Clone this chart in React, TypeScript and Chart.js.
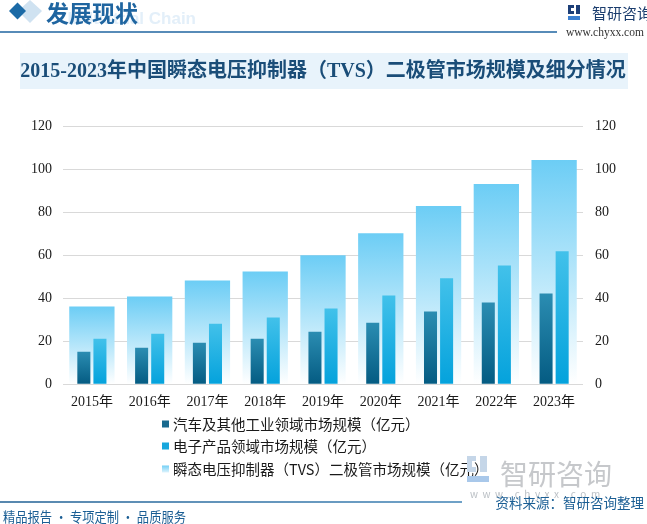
import React, { useEffect, useRef } from "react";
import { Chart, registerables } from "chart.js";

Chart.register(...registerables);

const categories = ["2015年", "2016年", "2017年", "2018年", "2019年", "2020年", "2021年", "2022年", "2023年"];
const autoIndustry = [15.1, 16.9, 19.3, 21.1, 24.4, 28.6, 33.8, 38.0, 42.2];
const electronics = [21.1, 23.5, 28.1, 31.0, 35.2, 41.2, 49.2, 55.2, 61.8];
const totalMarket = [36.1, 40.8, 48.2, 52.4, 59.9, 70.2, 82.8, 93.0, 104.2];
const seriesNames = [
  "汽车及其他工业领域市场规模（亿元）",
  "电子产品领域市场规模（亿元）",
  "瞬态电压抑制器（TVS）二极管市场规模（亿元）",
];
const titleText = "2015-2023年中国瞬态电压抑制器（TVS）二极管市场规模及细分情况";
const yMax = 120;
const yStep = 20;

const SERIF = '"Liberation Serif", "Noto Sans CJK SC", serif';
const SANS = '"Noto Sans CJK SC", "Noto Sans", sans-serif';

function gradientFill(c1: string, c2: string, fallback: string) {
  return (ctx: any) => {
    const chart = ctx.chart;
    const area = chart.chartArea;
    if (!area || ctx.type !== "data") return fallback;
    const v = ctx.parsed ? ctx.parsed.y : ctx.raw;
    const y = chart.scales.y;
    const top = y.getPixelForValue(v);
    const bottom = y.getPixelForValue(0);
    if (!isFinite(top) || !isFinite(bottom) || top === bottom) return fallback;
    const g = chart.ctx.createLinearGradient(0, top, 0, bottom);
    g.addColorStop(0, c1);
    g.addColorStop(1, c2);
    return g;
  };
}

const decorPlugin = {
  id: "decor",
  beforeDraw(chart: any) {
    const c = chart.ctx as CanvasRenderingContext2D;
    c.save();
    c.fillStyle = "#ffffff";
    c.fillRect(0, 0, chart.width, chart.height);

    // header diamonds
    c.fillStyle = "#cfe2f1";
    c.beginPath();
    c.moveTo(30, 0);
    c.lineTo(42, 11);
    c.lineTo(30, 23);
    c.lineTo(18, 11);
    c.closePath();
    c.fill();
    c.fillStyle = "#1b6aa6";
    c.beginPath();
    c.moveTo(17.5, 2.5);
    c.lineTo(26, 11);
    c.lineTo(17.5, 19.5);
    c.lineTo(9, 11);
    c.closePath();
    c.fill();

    // faded english
    c.fillStyle = "#e3eff9";
    c.font = 'bold 17px "Liberation Sans", Arial, sans-serif';
    c.textAlign = "right";
    c.textBaseline = "middle";
    c.fillText("Industrial Chain", 196, 19);

    // heading
    c.fillStyle = "#1f65a0";
    c.font = "bold 23px " + SANS;
    c.textAlign = "left";
    c.fillText("发展现状", 46, 13);

    // header line
    c.strokeStyle = "#1f64a0";
    c.lineWidth = 1.5;
    c.beginPath();
    c.moveTo(0, 32);
    c.lineTo(557, 32);
    c.stroke();

    // logo icon
    c.fillStyle = "#1d3f78";
    c.fillRect(568, 5, 6, 3);
    c.fillRect(568, 5, 3, 9);
    c.fillRect(568, 11, 6, 3);
    c.fillRect(576, 5, 4, 9);
    c.fillStyle = "#3b7fd0";
    c.fillRect(568, 16, 12, 4);
    c.fillStyle = "#1b3d6e";
    c.font = "15px " + SANS;
    c.textAlign = "left";
    c.fillText("智研咨询", 592, 13);
    c.fillStyle = "#333333";
    c.font = "11.5px " + SERIF;
    c.fillText("www.chyxx.com", 566, 33);

    // title box
    c.fillStyle = "#e8f3fb";
    c.fillRect(20, 53, 608, 36);
    c.fillStyle = "#1a4d78";
    c.font = "bold 20px " + SERIF;
    c.textAlign = "center";
    c.fillText(titleText, 323, 72);
    c.restore();
  },
  afterDraw(chart: any) {
    const c = chart.ctx as CanvasRenderingContext2D;
    c.save();
    // legend
    const rows = [424, 446, 469];
    const marks: any[] = ["#186a8f", "#17a7dd", null];
    rows.forEach((ry, i) => {
      if (marks[i]) {
        c.fillStyle = marks[i];
      } else {
        const g = c.createLinearGradient(0, ry - 4, 0, ry + 4);
        g.addColorStop(0, "#6ccdf5");
        g.addColorStop(1, "#e6f6fd");
        c.fillStyle = g;
      }
      c.fillRect(162, ry - 3.5, 7, 7);
      c.fillStyle = "#1a1a1a";
      c.font = "14.5px " + SANS;
      c.textAlign = "left";
      c.textBaseline = "middle";
      c.fillText(seriesNames[i], 173, ry);
    });

    // watermark bottom right
    c.fillStyle = "#c5d6e8";
    c.fillRect(467, 456, 9, 5);
    c.fillRect(467, 456, 5, 16);
    c.fillRect(467, 467, 9, 5);
    c.fillRect(480, 456, 7, 16);
    c.fillStyle = "#a9c8ea";
    c.fillRect(467, 476, 22, 6);
    c.fillStyle = "#c6c8cb";
    c.font = "28px " + SANS;
    c.textAlign = "left";
    c.textBaseline = "middle";
    c.fillText("智研咨询", 500, 474);
    c.fillStyle = "#bcc1c6";
    c.font = "10px " + SANS;
    c.fillText("w  w  w  .  c  h  y  x  x  .  c  o  m", 470, 494);

    // footer line
    const lg = c.createLinearGradient(0, 0, 462, 0);
    lg.addColorStop(0, "#1f5f93");
    lg.addColorStop(1, "#3f82b5");
    c.strokeStyle = lg;
    c.lineWidth = 1.5;
    c.beginPath();
    c.moveTo(0, 502);
    c.lineTo(462, 502);
    c.stroke();

    c.fillStyle = "#1a5e94";
    c.font = "13.5px " + SANS;
    c.textAlign = "right";
    c.fillText("资料来源：智研咨询整理", 644, 503);
    c.textAlign = "left";
    c.font = "13.5px " + SANS;
    c.fillText("精品报告 · 专项定制 · 品质服务", 3, 517, 183);
    c.restore();
  },
};

export default function App() {
  const ref = useRef<HTMLCanvasElement | null>(null);
  useEffect(() => {
    document.body.style.margin = "0";
    if (!ref.current) return;
    const chart = new Chart(ref.current, {
      type: "bar",
      data: {
        labels: categories,
        datasets: [
          {
            label: seriesNames[0],
            data: autoIndustry,
            backgroundColor: gradientFill("#2b8db2", "#045b82", "#186a8f"),
            categoryPercentage: 0.557,
            barPercentage: 0.81,
            yAxisID: "y",
          },
          {
            label: seriesNames[1],
            data: electronics,
            backgroundColor: gradientFill("#42c1ea", "#04a2dc", "#17a7dd"),
            categoryPercentage: 0.557,
            barPercentage: 0.81,
            yAxisID: "y",
          },
          {
            label: seriesNames[2],
            data: totalMarket,
            backgroundColor: gradientFill("#6ccdf5", "#ffffff", "#9fdcf7"),
            grouped: false,
            categoryPercentage: 1,
            barPercentage: 0.784,
            yAxisID: "y",
          } as any,
        ],
      },
      options: {
        animation: false,
        responsive: false,
        maintainAspectRatio: false,
        layout: { padding: { top: 126, left: 20, right: 19, bottom: 103 } },
        plugins: {
          legend: { display: false },
          tooltip: { enabled: false },
          title: { display: false },
        },
        scales: {
          x: {
            offset: true,
            grid: { display: false, drawTicks: false },
            border: { display: false },
            ticks: { color: "#1a1a1a", font: { family: SERIF, size: 14 }, padding: 10 },
          },
          y: {
            min: 0,
            max: yMax,
            position: "left",
            grid: { color: "#d9d9d9", drawTicks: false },
            border: { display: false },
            ticks: { stepSize: yStep, color: "#1a1a1a", font: { family: SERIF, size: 14 }, padding: 11 },
          },
          y2: {
            min: 0,
            max: yMax,
            position: "right",
            grid: { display: false, drawTicks: false },
            border: { display: false },
            ticks: { stepSize: yStep, color: "#1a1a1a", font: { family: SERIF, size: 14 }, padding: 12 },
          },
        },
      },
      plugins: [decorPlugin],
    });
    return () => chart.destroy();
  }, []);
  return (
    <div style={{ width: 647, height: 524, position: "relative" }}>
      <canvas ref={ref} width={647} height={524} style={{ width: 647, height: 524, display: "block" }} />
    </div>
  );
}
